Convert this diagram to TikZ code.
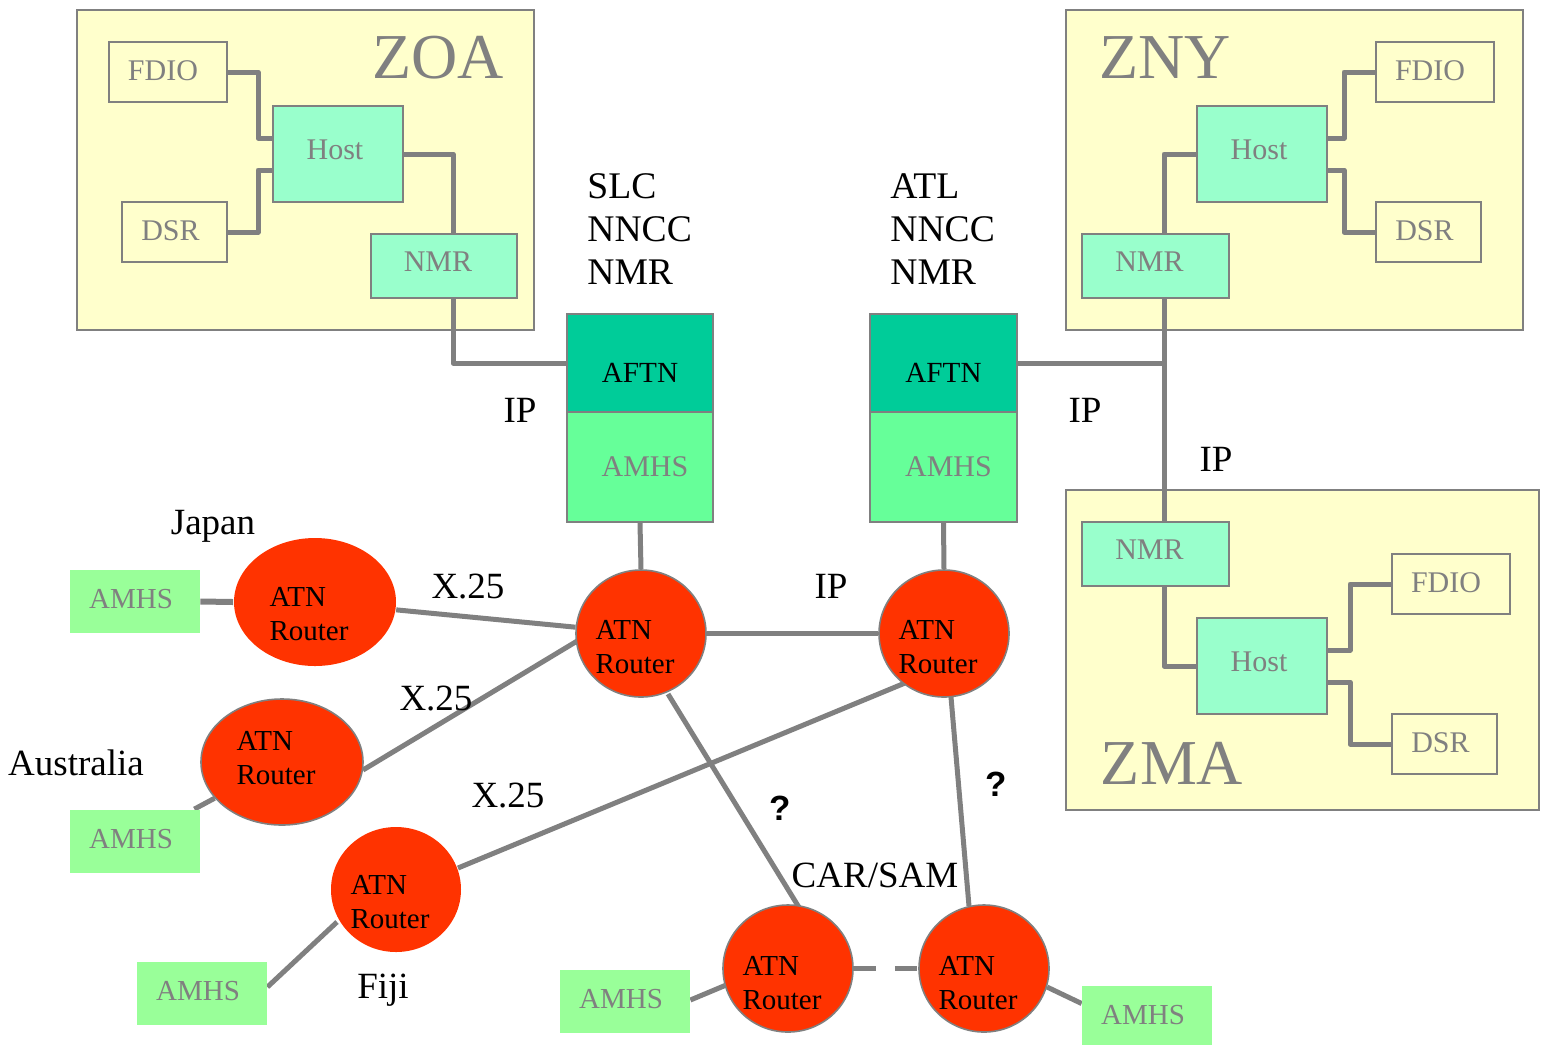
\documentclass[tikz,border=0pt]{standalone}
\usepackage{fontspec}
\setmainfont{Liberation Serif}
\newfontfamily\qfont{Liberation Sans}
\usetikzlibrary{shapes.geometric,calc}
\definecolor{lg}{HTML}{808080}
\definecolor{zone}{HTML}{FFFFCC}
\definecolor{mint}{HTML}{99FFCC}
\definecolor{aftnc}{HTML}{00CC99}
\definecolor{amhsbig}{HTML}{66FF99}
\definecolor{amhssm}{HTML}{99FF99}
\definecolor{rred}{HTML}{FF3300}
\pgfdeclarelayer{bg}
\pgfdeclarelayer{lines}
\pgfsetlayers{bg,lines,main}
\newcommand{\shiftt}[2]{\raisebox{#1}[\height][\depth]{#2}}
\tikzset{
  zonebox/.style={rectangle,draw=lg,fill=zone,line width=1pt,inner sep=0pt},
  zonelbl/.style={text=lg,font=\fontsize{32}{36}\selectfont,inner sep=0pt},
  sysbox/.style={rectangle,draw=lg,fill=zone,line width=1pt,inner sep=0pt,text=lg,font=\fontsize{15}{18}\selectfont},
  mintbox/.style={sysbox,fill=mint},
  aftnbox/.style={rectangle,draw=lg,fill=aftnc,line width=1pt,inner sep=0pt,text=black,font=\fontsize{14.6}{18}\selectfont,minimum width=73pt,minimum height=49pt},
  amhsbox/.style={rectangle,draw=lg,fill=amhsbig,line width=1pt,inner sep=0pt,text=lg,font=\fontsize{15}{18}\selectfont,minimum width=73pt,minimum height=55pt},
  amhssmall/.style={rectangle,fill=amhssm,inner sep=0pt,text=lg,font=\fontsize{14.5}{18}\selectfont,minimum width=65pt,minimum height=31.5pt},
  router/.style={ellipse,fill=rred,draw=lg,line width=0.8pt,inner sep=0pt,
    label={[font=\fontsize{14.5}{17}\selectfont,align=left,xshift=-3pt,yshift=#1]center:ATN\\Router}},
  router/.default=-6pt,
  routernb/.style={router=#1,draw=none},
  routernb/.default=-6pt,
  conn/.style={draw=lg,line width=2.5pt,line join=round},
  lbl/.style={inner sep=0pt,font=\fontsize{18.5}{21.5}\selectfont},
  qlbl/.style={inner sep=0pt,font=\qfont\bfseries\fontsize{17.5}{20}\selectfont}
}
\begin{document}
\begin{tikzpicture}[x=0.5pt,y=-0.5pt]
\useasboundingbox (0,0) rectangle (1548,1046);
% zones
\begin{pgfonlayer}{bg}
\fill[white] (0,0) rectangle (1548,1046);
\node[zonebox,minimum width=228.5pt,minimum height=160pt] (zoa) at (305.5,170) {};
\node[zonebox,minimum width=228.5pt,minimum height=160pt] (zny) at (1294.5,170) {};
\node[zonebox,minimum width=236.5pt,minimum height=160pt] (zma) at (1302.5,650) {};
\end{pgfonlayer}
\node[zonelbl] (zoal) at (438,58) {ZOA};
\node[zonelbl] (znyl) at (1165,58) {ZNY};
\node[zonelbl] (zmal) at (1172,763) {ZMA};
% ZOA contents
\node[sysbox,minimum width=59pt,minimum height=30pt] (afdio) at (168,72) {\shiftt{0.5pt}{FDIO}\hspace*{5pt}};
\node[sysbox,minimum width=52.5pt,minimum height=30pt] (adsr) at (174.5,232) {\shiftt{0.5pt}{DSR}\hspace*{4pt}};
\node[mintbox,minimum width=65pt,minimum height=48pt] (ahost) at (338,154) {\shiftt{2pt}{Host}\hspace*{3pt}};
\node[mintbox,minimum width=73pt,minimum height=32pt] (anmr) at (444,266) {\shiftt{2pt}{NMR}\hspace*{6pt}};
% ZNY contents
\node[sysbox,minimum width=59pt,minimum height=30pt] (yfdio) at (1435,72) {\shiftt{0.5pt}{FDIO}\hspace*{5pt}};
\node[sysbox,minimum width=52.5pt,minimum height=30pt] (ydsr) at (1428.5,232) {\shiftt{0.5pt}{DSR}\hspace*{4pt}};
\node[mintbox,minimum width=65pt,minimum height=48pt] (yhost) at (1262,154) {\shiftt{2pt}{Host}\hspace*{3pt}};
\node[mintbox,minimum width=73.5pt,minimum height=32pt] (ynmr) at (1155.5,266) {\shiftt{2pt}{NMR}\hspace*{6pt}};
% ZMA contents
\node[sysbox,minimum width=59pt,minimum height=30pt] (mfdio) at (1451,584) {\shiftt{0.5pt}{FDIO}\hspace*{5pt}};
\node[sysbox,minimum width=52.5pt,minimum height=30pt] (mdsr) at (1444.5,744) {\shiftt{0.5pt}{DSR}\hspace*{4pt}};
\node[mintbox,minimum width=65pt,minimum height=48pt] (mhost) at (1262,666) {\shiftt{2pt}{Host}\hspace*{3pt}};
\node[mintbox,minimum width=73.5pt,minimum height=32pt] (mnmr) at (1155.5,554) {\shiftt{2pt}{NMR}\hspace*{6pt}};
% AFTN / AMHS stacks
\node[aftnbox] (aftn1) at (640,363) {\shiftt{-5pt}{AFTN}};
\node[amhsbox] (amhs1) at (640,467) {\hspace*{5pt}AMHS};
\node[aftnbox,minimum width=73.5pt] (aftn2) at (943.5,363) {\shiftt{-5pt}{AFTN}};
\node[amhsbox,minimum width=73.5pt] (amhs2) at (943.5,467) {\hspace*{5pt}AMHS};
% labels
\node[lbl,anchor=west,align=left,font=\fontsize{18.8}{21.5}\selectfont] (slc) at (587,229) {SLC\\NNCC\\NMR};
\node[lbl,anchor=west,align=left,font=\fontsize{18.8}{21.5}\selectfont] (atl) at (890,229) {ATL\\NNCC\\NMR};
\node[lbl] (ip1) at (520,410) {IP};
\node[lbl] (ip2) at (1085,410) {IP};
\node[lbl] (ip3) at (1216,459) {IP};
\node[lbl] (ip4) at (831,586) {IP};
\node[lbl] (japan) at (213,526) {Japan};
\node[lbl] (austr) at (76,763) {Australia};
\node[lbl] (fiji) at (383,990) {Fiji};
\node[lbl] (carsam) at (875,875) {CAR/SAM};
\node[lbl] (x1) at (468,586) {X.25};
\node[lbl] (x2) at (436,698) {X.25};
\node[lbl] (x3) at (508,795) {X.25};
\node[qlbl] (q1) at (780,808) {?};
\node[qlbl] (q2) at (996,784) {?};
% routers
\node[router=-7pt,minimum width=65pt,minimum height=63.5pt] (r1) at (641,633.5) {};
\node[router=-7pt,minimum width=65pt,minimum height=63.5pt] (r2) at (944,633.5) {};
\node[routernb=-6pt,minimum width=81pt,minimum height=64pt] (rj) at (315,602) {};
\node[router=2pt,minimum width=81pt,minimum height=63pt] (ra) at (282,762) {};
\node[routernb=-6.5pt,minimum width=65pt,minimum height=62.5pt] (rf) at (396,889.5) {};
\node[router=-7.5pt,minimum width=65pt,minimum height=63.5pt] (cl) at (788,968.5) {};
\node[router=-7.5pt,minimum width=65pt,minimum height=63.5pt] (cr) at (984,968.5) {};
% small AMHS
\node[amhssmall] (aj) at (135,601.5) {\shiftt{1pt}{AMHS}\hspace*{4pt}};
\node[amhssmall] (aa) at (135,841) {\shiftt{1pt}{AMHS}\hspace*{4pt}};
\node[amhssmall] (af) at (202,993.5) {\shiftt{1pt}{AMHS}\hspace*{4pt}};
\node[amhssmall] (acl) at (625,1001.5) {\shiftt{1pt}{AMHS}\hspace*{4pt}};
\node[amhssmall,minimum height=29.5pt] (acr) at (1147,1015.5) {\shiftt{0pt}{AMHS}\hspace*{4pt}};
% connectors
\begin{pgfonlayer}{lines}
% ZOA
\draw[conn] (afdio.east) -- ++(30,0) |- ($(ahost.west)+(0,-16)$);
\draw[conn] (adsr.east) -- ++(30,0) |- ($(ahost.west)+(0,16)$);
\draw[conn] (ahost.east) -| ($(anmr.north)+(9,0)$);
\draw[conn] ($(anmr.south)+(9,0)$) |- (aftn1.west);
% ZNY
\draw[conn] ($(yhost.east)+(0,-16)$) -- ++(16,0) |- (yfdio.west);
\draw[conn] ($(yhost.east)+(0,16)$) -- ++(16,0) |- (ydsr.west);
\draw[conn] (yhost.west) -| ($(ynmr.north)+(8.5,0)$);
\coordinate (ybus) at ($(ynmr.south)+(8.5,0)$);
\draw[conn] (ybus) -- ($(mnmr.north)+(8.5,0)$);
\draw[conn] (aftn2.east) -- (aftn2.east -| ybus);
% ZMA
\draw[conn] ($(mnmr.south)+(8.5,0)$) |- (mhost.west);
\draw[conn] ($(mhost.east)+(0,-16)$) -- ++(22,0) |- (mfdio.west);
\draw[conn] ($(mhost.east)+(0,16)$) -- ++(22,0) |- (mdsr.west);
% stacks to routers
\draw[conn] (amhs1.south) -- (r1.north);
\draw[conn] (amhs2.south) -- (r2.north);
% router links
\draw[conn] (r1.east) -- (r2.west);
\draw[conn] (rj) -- (r1);
\draw[conn] ($(ra.center)+(81,8)$) -- ($(r1.center)+(-63,7)$);
\draw[conn] ($(rf.center)+(62,-21.5)$) -- ($(r2.center)+(-39,49.5)$);
\draw[conn] ($(r1.center)+(27,60.5)$) -- ($(cl.center)+(12,-59.5)$);
\draw[conn] ($(r2.center)+(7,63.5)$) -- ($(cr.center)+(-15,-62.5)$);
\draw[conn,dash pattern=on 11pt off 9.5pt] (cl.east) -- (cr.west);
% AMHS to routers
\draw[conn,line width=3pt] (aj.east) -- (rj.west);
\draw[conn] (aa) -- (ra);
\draw[conn] ($(af.east)+(0,-6.5)$) -- ($(rf.center)+(-59,32.5)$);
\draw[conn] ($(acl.east)+(0,-1.5)$) -- ($(cl.center)+(-63,17)$);
\draw[conn] ($(cr.center)+(63,18.5)$) -- ($(acr.west)+(0,-12)$);
\end{pgfonlayer}
\end{tikzpicture}
\end{document}
